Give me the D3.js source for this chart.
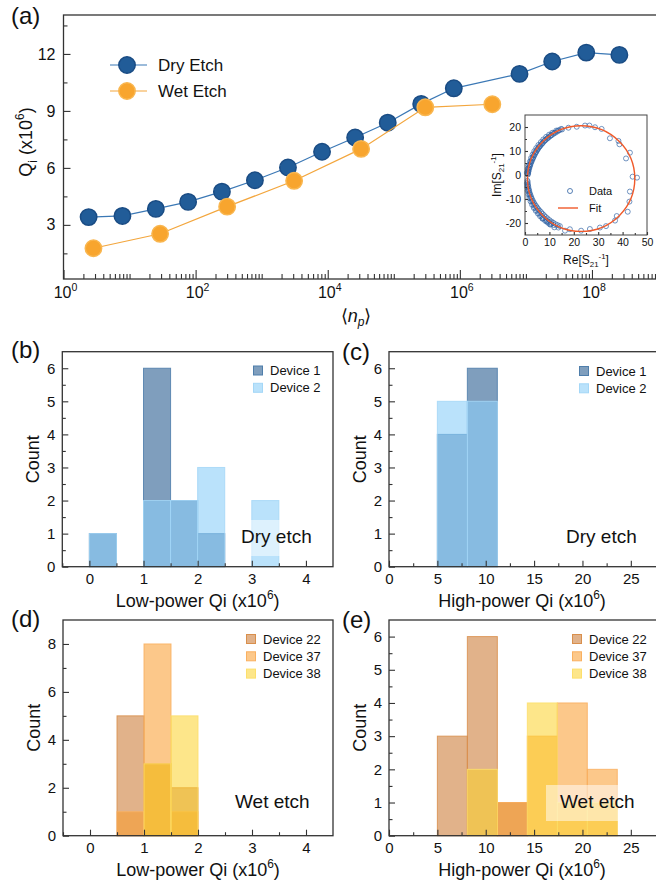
<!DOCTYPE html>
<html>
<head>
<meta charset="utf-8">
<script src="https://cdn.jsdelivr.net/npm/d3@7"></script>
<style>
  body { margin: 0; background: #fff; }
  svg { font-family: "Liberation Sans", Arial, Helvetica, sans-serif; }
</style>
</head>
<body>
<div id="fig"></div>
<script>
// ---- panel (a): Qi vs photon number ----
const dryNp = [2.4, 7.8, 25, 77, 250, 790, 2500, 8200, 2.6e4, 8.1e4, 2.6e5, 8.1e5, 8e6, 2.5e7, 8.2e7, 2.6e8];
const dryQi = [3.41, 3.47, 3.84, 4.21, 4.75, 5.35, 6.02, 6.85, 7.6, 8.38, 9.37, 10.19, 10.95, 11.6, 12.07, 11.95];
const wetNp = [2.84, 29, 300, 3100, 3.2e4, 3.0e5, 3.1e6];
const wetQi = [1.77, 2.53, 3.96, 5.32, 7.0, 9.19, 9.35];
const qiTicks = [3, 6, 9, 12];
const npTickExps = [0, 2, 4, 6, 8];

// ---- inset: circle fit in the complex plane ----
const insetRe = [
  15.2, 14.1, 13.2, 12.4, 11.6, 10.9, 10.2, 9.6, 9.0, 8.4, 7.8, 7.3, 6.8, 6.3, 5.8, 5.4, 5.0, 4.6, 4.2, 3.8, 3.5, 3.2, 2.9, 2.6, 2.3, 2.1, 1.9, 1.7, 1.5, 1.4, 1.3, 1.2,
  13.6, 12.0, 10.6, 9.3, 8.1, 7.0, 6.0, 5.1, 4.3, 3.6, 3.0, 2.4, 1.9, 1.5, 1.2, 1.0,
  12.8, 11.2, 9.9, 8.7, 7.5, 6.5, 5.5, 4.6, 3.8, 3.1, 2.5, 2.0, 1.5, 1.1, 0.8,
  1.1, 1.2, 1.3, 1.5, 1.7, 1.9, 2.2, 2.5, 2.8, 3.2, 3.6, 4.0, 4.5, 5.0, 5.5, 6.0, 6.6, 7.2, 7.8, 8.5, 9.2, 10.0, 10.8, 11.6, 12.5, 13.4, 14.3,
  1.0, 1.1, 1.4, 1.8, 2.3, 2.9, 3.5, 4.2, 5.0, 5.8, 6.7, 7.6, 8.6, 9.6, 10.7, 11.8,
  0.8, 0.9, 1.1, 1.4, 1.8, 2.3, 2.9, 3.6, 4.4, 5.3, 6.2, 7.2, 8.3, 9.4, 10.5,
  14.8, 17.8, 21.2, 24.6, 26.4, 28.7, 31.4, 34.8, 38.3, 38.7, 43.0, 41.4, 44.1, 45.9, 43.0, 42.8, 42.1, 37.6, 36.9, 33.2, 30.7, 26.6, 23.0, 18.4, 16.4, 13.7, 12.0, 10.2, 8.9, 7.2
];
const insetIm = [
  19.0, 18.6, 18.1, 17.6, 17.1, 16.6, 16.1, 15.6, 15.1, 14.6, 14.0, 13.4, 12.8, 12.2, 11.6, 11.0, 10.3, 9.6, 8.9, 8.2, 7.5, 6.8, 6.1, 5.4, 4.7, 4.0, 3.4, 2.7, 2.0, 1.4, 0.8, 0.2,
  18.6, 17.6, 16.5, 15.5, 14.4, 13.2, 12.0, 10.8, 9.5, 8.2, 6.9, 5.6, 4.2, 2.9, 1.6, 0.5,
  18.5, 17.6, 16.8, 15.9, 14.8, 13.7, 12.5, 11.2, 9.9, 8.5, 7.1, 5.6, 4.0, 2.5, 1.0,
  -3.0, -3.9, -4.8, -5.7, -6.6, -7.4, -8.3, -9.1, -9.9, -10.7, -11.5, -12.2, -12.9, -13.6, -14.3, -14.9, -15.5, -16.2, -16.8, -17.5, -18.1, -18.8, -19.4, -19.9, -20.5, -20.9, -21.3,
  -2.4, -4.4, -6.2, -7.9, -9.5, -11.0, -12.4, -13.7, -14.9, -16.0, -17.0, -17.9, -18.7, -19.5, -20.2, -20.9,
  -3.5, -5.0, -6.6, -8.1, -9.6, -11.0, -12.4, -13.7, -14.9, -16.1, -17.2, -18.2, -19.1, -19.9, -20.6,
  19.2, 19.7, 20.1, 20.6, 20.6, 19.9, 19.2, 15.3, 14.2, 12.8, 9.3, 6.9, -0.7, -1.1, -6.9, -11.1, -15.3, -17.1, -19.0, -21.3, -21.9, -22.5, -23.2, -22.6, -23.2, -21.9, -21.8, -20.6, -19.4, -18.1
];
const fitCenter = [23, -1.5], fitRadius = 22;

// ---- histograms ----
const lowBins = [0, 0.5, 1, 1.5, 2, 2.5, 3, 3.5];
const dev1Low = [1, 0, 6, 2, 1, 0, 0];
const dev2Low = [1, 0, 2, 2, 3, 0, 2];
const highBins = [5, 8.1, 11.2, 14.3, 17.4, 20.5, 23.6];
const dev1High = [4, 6, 0, 0, 0, 0];
const dev2High = [5, 5, 0, 0, 0, 0];
const wetLowBins = [0.5, 1, 1.5, 2];
const dev22Low = [5, 3, 2];
const dev37Low = [1, 8, 1];
const dev38Low = [0, 3, 5];
const dev22High = [3, 6, 1, 0, 0, 0];
const dev37High = [0, 0, 1, 3, 4, 2];
const dev38High = [0, 2, 0, 4, 1, 1];

const ink = '#333';
const svg = d3.select('#fig').append('svg').attr('width', 656).attr('height', 881);

// text with sub/superscripts: parts = [[text, 'sup'|'sub'|null], ...]
function rich(sel, parts, size) {
  let cur = 0;
  parts.forEach(([t, kind]) => {
    let target = kind === 'sup' ? -0.42 * size : kind === 'sub' ? 0.28 * size : 0;
    sel.append('tspan').text(t)
      .attr('font-size', kind ? size * 0.66 : size)
      .attr('dy', target - cur);
    cur = target;
  });
  return sel;
}

function styleAxis(g, size) {
  g.attr('font-family', null).attr('font-size', null).attr('color', ink);
  g.select('.domain').remove();
  g.selectAll('.tick line').attr('stroke-width', 1.1);
  g.selectAll('.tick text').attr('font-size', size).attr('fill', '#111');
}

// ================= panel (a) =================
const A = {left: 63.5, right: 655, top: 15, bottom: 279};
const xa = d3.scaleLog().domain([1, 9e8]).range([A.left, A.right]);
const ya = d3.scaleLinear().domain([0.15, 14.05]).range([A.bottom, A.top]);

let logMinor = [], logMajor = [];
for (let k = 0; k <= 8; k++) {
  for (let m = 1; m <= 9; m++) {
    let v = m * Math.pow(10, k);
    if (v > 9e8) continue;
    if (m === 1 && k % 2 === 0) logMajor.push(v); else logMinor.push(v);
  }
}

const ga = svg.append('g');
ga.append('g').attr('transform', `translate(0,${A.bottom})`)
  .call(d3.axisBottom(xa).tickValues(logMinor).tickSize(-5).tickFormat(''))
  .call(g => styleAxis(g, 15));
ga.append('g').attr('transform', `translate(0,${A.bottom})`)
  .call(d3.axisBottom(xa).tickValues(logMajor).tickSize(-9).tickFormat(''))
  .call(g => styleAxis(g, 15));
ga.append('g').attr('transform', `translate(${A.left},0)`)
  .call(d3.axisLeft(ya).tickValues(qiTicks).tickSize(-7).tickPadding(8).tickFormat(d => d))
  .call(g => styleAxis(g, 16));
ga.append('g').attr('transform', `translate(${A.left},0)`)
  .call(d3.axisLeft(ya).tickValues([1.5, 4.5, 7.5, 10.5, 13.5]).tickSize(-4).tickFormat(''))
  .call(g => styleAxis(g, 16));

npTickExps.forEach(e => {
  rich(ga.append('text').attr('x', xa(Math.pow(10, e)) + 2).attr('y', 298)
    .attr('text-anchor', 'middle').attr('fill', '#111'), [['10', null], [String(e), 'sup']], 16);
});

// lines + markers
const lineA = d3.line().x(d => xa(d[0])).y(d => ya(d[1]));
const dryPts = d3.zip(dryNp, dryQi), wetPts = d3.zip(wetNp, wetQi);
ga.append('path').datum(dryPts).attr('d', lineA).attr('fill', 'none').attr('stroke', '#3b78b5').attr('stroke-width', 1.2);
ga.append('g').selectAll('circle').data(dryPts).join('circle')
  .attr('cx', d => xa(d[0])).attr('cy', d => ya(d[1])).attr('r', 8.2)
  .attr('fill', '#215c98').attr('stroke', '#1a4c84').attr('stroke-width', 1.5);
ga.append('path').datum(wetPts).attr('d', lineA).attr('fill', 'none').attr('stroke', '#f3a63d').attr('stroke-width', 1.2);
ga.append('g').selectAll('circle').data(wetPts).join('circle')
  .attr('cx', d => xa(d[0])).attr('cy', d => ya(d[1])).attr('r', 8.2)
  .attr('fill', '#f8a52e').attr('stroke', '#f9b64f').attr('stroke-width', 1.5);

// legend (a)
[['Dry Etch', 65, '#215c98', '#1a4c84', '#3b78b5'], ['Wet Etch', 91, '#f8a52e', '#f9b64f', '#f3a63d']].forEach(([name, y, f, s, l]) => {
  ga.append('line').attr('x1', 110).attr('x2', 147).attr('y1', y).attr('y2', y).attr('stroke', l).attr('stroke-width', 1.2);
  ga.append('circle').attr('cx', 127).attr('cy', y).attr('r', 8.2).attr('fill', f).attr('stroke', s).attr('stroke-width', 1.5);
  ga.append('text').attr('x', 158).attr('y', y + 6).attr('font-size', 17).attr('fill', '#111').text(name);
});

ga.append('rect').attr('x', A.left).attr('y', A.top).attr('width', 700 - A.left).attr('height', A.bottom - A.top)
  .attr('fill', 'none').attr('stroke', ink).attr('stroke-width', 1.3);

rich(ga.append('text').attr('transform', `translate(32,142) rotate(-90)`).attr('text-anchor', 'middle').attr('fill', '#111'),
  [['Q', null], ['i', 'sub'], [' (x10', null], ['6', 'sup'], [')', null]], 18);
const npLab = ga.append('text').attr('x', 356).attr('y', 322).attr('text-anchor', 'middle').attr('font-size', 18).attr('fill', '#111');
npLab.append('tspan').text('\u27E8');
npLab.append('tspan').attr('font-style', 'italic').text('n');
npLab.append('tspan').attr('font-style', 'italic').attr('font-size', 12).attr('dy', 4).text('p');
npLab.append('tspan').attr('dy', -4).text('\u27E9');

// ---- inset ----
const I = {left: 525, right: 647, top: 115, bottom: 235};
const xi = d3.scaleLinear().domain([0, 50]).range([I.left, I.right]);
const yi = d3.scaleLinear().domain([-25, 25]).range([I.bottom, I.top]);
const gi = svg.append('g');
gi.append('rect').attr('x', I.left).attr('y', I.top).attr('width', I.right - I.left).attr('height', I.bottom - I.top).attr('fill', '#fff');
gi.append('g').selectAll('circle').data(d3.zip(insetRe, insetIm)).join('circle')
  .attr('cx', d => xi(d[0])).attr('cy', d => yi(d[1])).attr('r', 2.5)
  .attr('fill', 'none').attr('stroke', '#2f62a3').attr('stroke-width', 0.8).attr('stroke-opacity', 0.85);
gi.append('ellipse').attr('cx', xi(fitCenter[0])).attr('cy', yi(fitCenter[1]))
  .attr('rx', xi(fitRadius) - xi(0)).attr('ry', yi(0) - yi(fitRadius))
  .attr('fill', 'none').attr('stroke', '#f05a2a').attr('stroke-width', 1.4);
gi.append('g').attr('transform', `translate(0,${I.bottom})`)
  .call(d3.axisBottom(xi).tickValues([0, 10, 20, 30, 40, 50]).tickSize(-3).tickPadding(4).tickFormat(d => d))
  .call(g => styleAxis(g, 10.5));
gi.append('g').attr('transform', `translate(0,${I.bottom})`)
  .call(d3.axisBottom(xi).tickValues([5, 15, 25, 35, 45]).tickSize(-2).tickFormat(''))
  .call(g => styleAxis(g, 10.5));
gi.append('g').attr('transform', `translate(${I.left},0)`)
  .call(d3.axisLeft(yi).tickValues([-20, -10, 0, 10, 20]).tickSize(-3).tickPadding(4).tickFormat(d => String(d)))
  .call(g => styleAxis(g, 10.5));
gi.append('g').attr('transform', `translate(${I.left},0)`)
  .call(d3.axisLeft(yi).tickValues([-15, -5, 5, 15]).tickSize(-2).tickFormat(''))
  .call(g => styleAxis(g, 10.5));
gi.append('rect').attr('x', I.left).attr('y', I.top).attr('width', I.right - I.left).attr('height', I.bottom - I.top)
  .attr('fill', 'none').attr('stroke', '#444').attr('stroke-width', 1);
gi.append('circle').attr('cx', 570).attr('cy', 191).attr('r', 2.5).attr('fill', 'none').attr('stroke', '#2f62a3').attr('stroke-width', 0.8);
gi.append('text').attr('x', 589).attr('y', 195).attr('font-size', 11).attr('fill', '#111').text('Data');
gi.append('line').attr('x1', 558).attr('x2', 578).attr('y1', 208).attr('y2', 208).attr('stroke', '#f05a2a').attr('stroke-width', 1.4);
gi.append('text').attr('x', 589).attr('y', 212).attr('font-size', 11).attr('fill', '#111').text('Fit');
rich(gi.append('text').attr('x', 586).attr('y', 264).attr('text-anchor', 'middle').attr('fill', '#111'),
  [['Re[S', null], ['21', 'sub'], ['-1', 'sup'], [']', null]], 12);
rich(gi.append('text').attr('transform', 'translate(501,175) rotate(-90)').attr('text-anchor', 'middle').attr('fill', '#111'),
  [['Im[S', null], ['21', 'sub'], ['-1', 'sup'], [']', null]], 12);

// ================= histograms =================
function histPanel(p) {
  const g = svg.append('g');
  const x = d3.scaleLinear().domain(p.xDomain).range([p.left, p.right]);
  const y = d3.scaleLinear().domain(p.yDomain).range([p.bottom, p.top]);

  p.series.forEach(s => {
    const rows = s.counts.map((c, i) => ({c, x0: p.bins[i], x1: p.bins[i + 1]})).filter(d => d.c > 0);
    g.append('g').selectAll('rect').data(rows).join('rect')
      .attr('x', d => x(d.x0)).attr('width', d => x(d.x1) - x(d.x0))
      .attr('y', d => y(d.c)).attr('height', d => y(0) - y(d.c))
      .attr('fill', s.fill).attr('fill-opacity', s.op)
      .attr('stroke', s.stroke).attr('stroke-width', 1).attr('stroke-opacity', 0.85);
  });

  // annotation with translucent box
  g.append('rect').attr('x', p.noteX - 14).attr('y', p.noteY - 23).attr('width', 72).attr('height', 36)
    .attr('fill', '#fff').attr('fill-opacity', 0.5);
  g.append('text').attr('x', p.noteX).attr('y', p.noteY).attr('font-size', 19).attr('fill', '#111').text(p.note);

  // legend
  p.series.forEach((s, i) => {
    const ly = p.legY + i * 17.3;
    g.append('rect').attr('x', p.legX - 4.5).attr('y', ly - 4.5).attr('width', 9).attr('height', 9)
      .attr('fill', s.fill).attr('fill-opacity', s.op).attr('stroke', s.stroke).attr('stroke-width', 1);
    g.append('text').attr('x', p.legX + 12).attr('y', ly + 4.5).attr('font-size', 13).attr('fill', '#111').text(s.name);
  });

  // axes, ticks pointing inward
  g.append('g').attr('transform', `translate(0,${p.bottom})`)
    .call(d3.axisBottom(x).tickValues(p.xMajor).tickSize(-6).tickPadding(7).tickFormat(d => d))
    .call(a => styleAxis(a, 15));
  g.append('g').attr('transform', `translate(0,${p.bottom})`)
    .call(d3.axisBottom(x).tickValues(p.xMinor).tickSize(-3.5).tickFormat(''))
    .call(a => styleAxis(a, 15));
  g.append('g').attr('transform', `translate(${p.left},0)`)
    .call(d3.axisLeft(y).tickValues(p.yMajor).tickSize(-6).tickPadding(7).tickFormat(d => d))
    .call(a => styleAxis(a, 15));
  g.append('g').attr('transform', `translate(${p.left},0)`)
    .call(d3.axisLeft(y).tickValues(p.yMinor).tickSize(-3.5).tickFormat(''))
    .call(a => styleAxis(a, 15));

  g.append('rect').attr('x', p.left).attr('y', p.top).attr('width', p.frameRight - p.left).attr('height', p.bottom - p.top)
    .attr('fill', 'none').attr('stroke', ink).attr('stroke-width', 1.3);

  g.append('text').attr('transform', `translate(${p.left - 23},${(p.top + p.bottom) / 2}) rotate(-90)`)
    .attr('text-anchor', 'middle').attr('font-size', 18).attr('fill', '#111').text('Count');
  rich(g.append('text').attr('x', (p.left + p.right) / 2).attr('y', p.bottom + 40).attr('text-anchor', 'middle').attr('fill', '#111'),
    [[p.xTitle + ' (x10', null], ['6', 'sup'], [')', null]], 18);
  g.append('text').attr('x', p.labX).attr('y', p.labY).attr('font-size', 24).attr('fill', '#111').text(p.label);
}

const blue1 = {fill: '#3a6a9a', op: 0.65, stroke: '#4f7eab'};
const blue2 = {fill: '#8ccff8', op: 0.6, stroke: '#a4d7f7'};
const tan22 = {fill: '#c8732a', op: 0.55, stroke: '#d98f4c'};
const org37 = {fill: '#fa9a2a', op: 0.55, stroke: '#f9b060'};
const yel38 = {fill: '#fcd22a', op: 0.55, stroke: '#fddf6c'};

const lowX = {xDomain: [-0.5, 4.5], xMajor: [0, 1, 2, 3, 4], xMinor: [-0.5, 0.5, 1.5, 2.5, 3.5], xTitle: 'Low-power Qi'};
const highX = {xDomain: [0, 27.5], xMajor: [0, 5, 10, 15, 20, 25], xMinor: [2.5, 7.5, 12.5, 17.5, 22.5], xTitle: 'High-power Qi'};
const countY65 = {yDomain: [0, 6.5], yMajor: [0, 1, 2, 3, 4, 5, 6], yMinor: [0.5, 1.5, 2.5, 3.5, 4.5, 5.5]};

histPanel(Object.assign({}, lowX, countY65, {
  left: 62.3, right: 333, frameRight: 333, top: 351.7, bottom: 566.7,
  bins: lowBins, label: '(b)', labX: 11, labY: 358,
  series: [Object.assign({name: 'Device 1', counts: dev1Low}, blue1), Object.assign({name: 'Device 2', counts: dev2Low}, blue2)],
  legX: 258, legY: 370.5, note: 'Dry etch', noteX: 241, noteY: 543
}));
histPanel(Object.assign({}, highX, countY65, {
  left: 389, right: 655, frameRight: 700, top: 351.7, bottom: 566.7,
  bins: highBins, label: '(c)', labX: 342, labY: 360,
  series: [Object.assign({name: 'Device 1', counts: dev1High}, blue1), Object.assign({name: 'Device 2', counts: dev2High}, blue2)],
  legX: 584, legY: 371, note: 'Dry etch', noteX: 566, noteY: 543
}));
histPanel(Object.assign({}, lowX, {
  yDomain: [0, 9], yMajor: [0, 2, 4, 6, 8], yMinor: [1, 3, 5, 7],
  left: 63, right: 333, frameRight: 333, top: 620, bottom: 835.7,
  bins: wetLowBins, label: '(d)', labX: 11, labY: 627,
  series: [Object.assign({name: 'Device 22', counts: dev22Low}, tan22), Object.assign({name: 'Device 37', counts: dev37Low}, org37),
           Object.assign({name: 'Device 38', counts: dev38Low}, yel38)],
  legX: 251, legY: 639, note: 'Wet etch', noteX: 235, noteY: 808
}));
histPanel(Object.assign({}, highX, countY65, {
  left: 389, right: 655, frameRight: 700, top: 620, bottom: 835.7,
  bins: highBins, label: '(e)', labX: 342, labY: 628,
  series: [Object.assign({name: 'Device 22', counts: dev22High}, tan22), Object.assign({name: 'Device 37', counts: dev37High}, org37),
           Object.assign({name: 'Device 38', counts: dev38High}, yel38)],
  legX: 577, legY: 639, note: 'Wet etch', noteX: 560, noteY: 808
}));

// panel label (a)
svg.append('text').attr('x', 11).attr('y', 24).attr('font-size', 24).attr('fill', '#111').text('(a)');
</script>
</body>
</html>
